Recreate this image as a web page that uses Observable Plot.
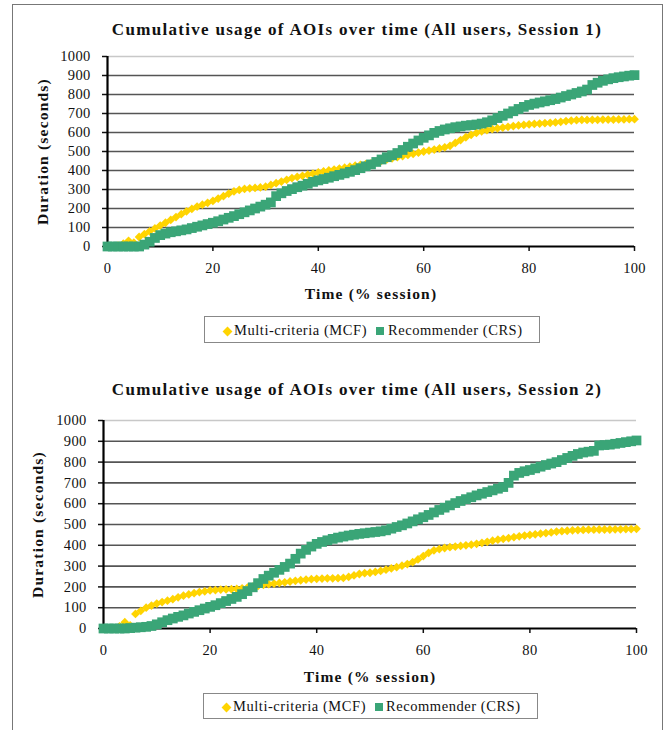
<!DOCTYPE html>
<html><head><meta charset="utf-8">
<script src="https://cdn.jsdelivr.net/npm/d3@7"></script>
<script src="https://cdn.jsdelivr.net/npm/@observablehq/plot@0.6"></script>
<style>
body{margin:0;background:#fff;font-family:"Liberation Serif",serif;color:#111;}
#page{position:relative;width:670px;height:730px;overflow:hidden;background:#fff;}
.frame{position:absolute;left:12px;top:4px;width:651px;height:800px;border:1.5px solid #777;box-sizing:border-box;}
.title{position:absolute;white-space:nowrap;font-weight:bold;font-size:17px;letter-spacing:1.3px;transform:translate(-50%,-50%);}
.chart{position:absolute;left:0;}
.chart g[aria-label="text"] text{letter-spacing:1.2px;}
.chart g[aria-label$="tick label"] text{letter-spacing:0.3px;}
.legend{position:absolute;border:1px solid #888;box-sizing:border-box;background:#fff;}
.legend span{position:absolute;white-space:nowrap;font-size:14.5px;letter-spacing:0.55px;}
.sym{position:absolute;}
</style></head>
<body><div id="page"><div class="frame"></div></div>
<script>
// ---- data ----
const timePct = d3.range(0, 101, 1); // x categories: % of session
const yTicks = [0,100,200,300,400,500,600,700,800,900,1000];
const xTicks = [0,20,40,60,80,100];
const seriesNames = ["Multi-criteria (MCF)", "Recommender (CRS)"];
const titles = ["Cumulative usage of AOIs over time (All users, Session 1)",
                "Cumulative usage of AOIs over time (All users, Session 2)"];
const xLabel = "Time (% session)";
const yLabel = "Duration (seconds)";

const s1MCF = [0,0,5,15,30,20,50,65,80,95,110,125,140,155,170,185,198,210,220,230,
  240,252,265,278,290,298,303,306,308,311,315,324,333,342,351,360,366,372,378,384,
  390,395,400,405,410,415,420,425,430,434,438,445,452,458,464,470,476,482,488,494,
  500,505,510,516,522,530,545,560,575,588,598,606,613,618,622,626,630,634,637,640,
  643,645,647,649,651,653,656,660,663,665,666,666,667,667,668,668,668,669,669,670,670];
const s1CRS = [0,0,0,0,0,0,0,10,25,45,60,68,75,80,85,90,97,104,111,118,
  125,133,142,151,160,170,180,190,200,210,220,232,265,280,292,302,312,320,330,340,
  348,355,362,370,377,385,393,402,412,422,432,445,458,470,480,492,508,525,542,558,
  572,585,598,608,616,622,628,632,636,639,642,647,654,664,676,688,700,712,724,735,
  745,752,758,764,770,776,784,792,800,808,816,826,850,862,872,880,886,891,895,899,902];
const s2MCF = [0,0,0,10,30,15,70,85,100,110,120,127,134,141,150,158,164,170,175,179,
  183,185,187,188,189,190,193,197,201,205,210,213,216,219,222,226,229,232,235,237,
  239,240,241,241,242,243,248,255,262,266,268,272,277,283,289,295,302,310,319,332,
  348,364,376,382,387,391,394,397,400,403,407,412,417,422,427,431,435,439,443,447,
  450,453,456,459,462,466,468,470,472,473,474,475,475,476,476,476,477,477,478,478,479];
const s2CRS = [0,0,0,0,0,2,4,6,8,12,20,30,40,48,56,63,72,80,88,96,
  104,112,122,132,142,152,165,180,198,218,238,254,268,282,296,312,335,360,378,394,
  407,416,424,431,437,442,447,451,455,458,461,464,467,472,480,488,496,505,515,525,
  535,546,558,570,581,592,603,613,622,631,640,648,656,664,672,680,700,735,748,756,
  762,770,778,786,793,800,810,820,830,839,846,850,854,880,882,884,888,892,896,900,904];

const colors = {mcf: "#FFD400", crs: "#3AA577"};

// custom diamond (rotated square) like the spreadsheet marker
const diamond = {draw(ctx, size){ const h = Math.sqrt(size/2);
  ctx.moveTo(0,-h); ctx.lineTo(h,0); ctx.lineTo(0,h); ctx.lineTo(-h,0); ctx.closePath(); }};

const page = document.getElementById("page");

function addDiv(cls, css, html){
  const d = document.createElement("div"); d.className = cls;
  Object.assign(d.style, css); if (html != null) d.textContent = html;
  page.appendChild(d); return d;
}

function makeChart(mcf, crs, L){
  const mcfData = mcf.map((v,i)=>({t: timePct[i], v}));
  const crsData = crs.map((v,i)=>({t: timePct[i], v}));
  const svg = Plot.plot({
    width: 670, height: L.height,
    marginLeft: L.ml, marginRight: L.mr, marginTop: L.mt, marginBottom: L.mb,
    x: {domain: [0,100]}, y: {domain: [0,1000]},
    style: {fontFamily: "'Liberation Serif', serif", fontSize: "14.5px", color: "#111", background: "transparent"},
    marks: [
      Plot.ruleY(yTicks.filter(d => d > 0 && d < 1000), {stroke: "#555", strokeWidth: 1.6}),
      Plot.ruleY([1000], {stroke: "#c8c8c8", strokeWidth: 1.6}),
      Plot.axisY({ticks: yTicks, tickSize: 5, tickPadding: 12, label: null, tickFormat: d => String(d), strokeWidth: 1.5}),
      Plot.axisX({ticks: xTicks, tickSize: 5, tickPadding: 11, label: null, tickFormat: d => String(d), strokeWidth: 1.5}),
      Plot.ruleX([0], {stroke: "#000", strokeWidth: 2.2}),
      Plot.ruleY([0], {stroke: "#000", strokeWidth: 2.2}),
      Plot.dot(mcfData, {x: "t", y: "v", symbol: diamond, r: 3.5, fill: colors.mcf, stroke: "none"}),
      Plot.dot(crsData, {x: "t", y: "v", symbol: "square", r: 5.5, fill: colors.crs, stroke: "none"}),
      Plot.text([xLabel], {frameAnchor: "bottom", dy: L.xdy, fontWeight: "bold", fontSize: 15.5, fill: "#111"}),
      Plot.text([yLabel], {frameAnchor: "left", textAnchor: "middle", dx: L.ydx, rotate: -90, fontWeight: "bold", fontSize: 15.5, fill: "#111"})
    ]
  });
  svg.classList.add("chart");
  svg.style.top = L.top + "px";
  page.appendChild(svg);
}

function makeLegend(L){
  const box = addDiv("legend", {left: L.x + "px", top: L.y + "px", width: L.w + "px", height: L.h + "px"});
  const mk = (cls, css, txt) => { const e = document.createElement(cls === "span" ? "span" : "div");
    if (cls !== "span") e.className = cls; Object.assign(e.style, css); if (txt) e.textContent = txt; box.appendChild(e); return e; };
  mk("sym", {left: (L.d - 3.5) + "px", top: (L.cy - 3.5) + "px", width: "7px", height: "7px", background: colors.mcf, transform: "rotate(45deg)"});
  mk("span", {left: L.t1 + "px", top: (L.cy - 9) + "px"}, seriesNames[0]);
  mk("sym", {left: (L.s - 4.3) + "px", top: (L.cy - 4.3) + "px", width: "8.6px", height: "8.6px", background: colors.crs});
  mk("span", {left: L.t2 + "px", top: (L.cy - 9) + "px"}, seriesNames[1]);
}

// Chart 1
addDiv("title", {left: "357px", top: "30px"}, titles[0]);
makeChart(s1MCF, s1CRS, {top: 40, height: 270, ml: 107, mr: 36, mt: 16, mb: 64, xdy: 52, ydx: -64});
makeLegend({x: 204, y: 316, w: 336, h: 27, cy: 14, d: 22, t1: 29, s: 175, t2: 183});

// Chart 2
addDiv("title", {left: "357px", top: "390px"}, titles[1]);
makeChart(s2MCF, s2CRS, {top: 400, height: 290, ml: 103, mr: 34, mt: 20, mb: 62, xdy: 53, ydx: -65});
makeLegend({x: 203, y: 693, w: 335, h: 26, cy: 13, d: 22, t1: 29, s: 175, t2: 182});
</script>
</body></html>
